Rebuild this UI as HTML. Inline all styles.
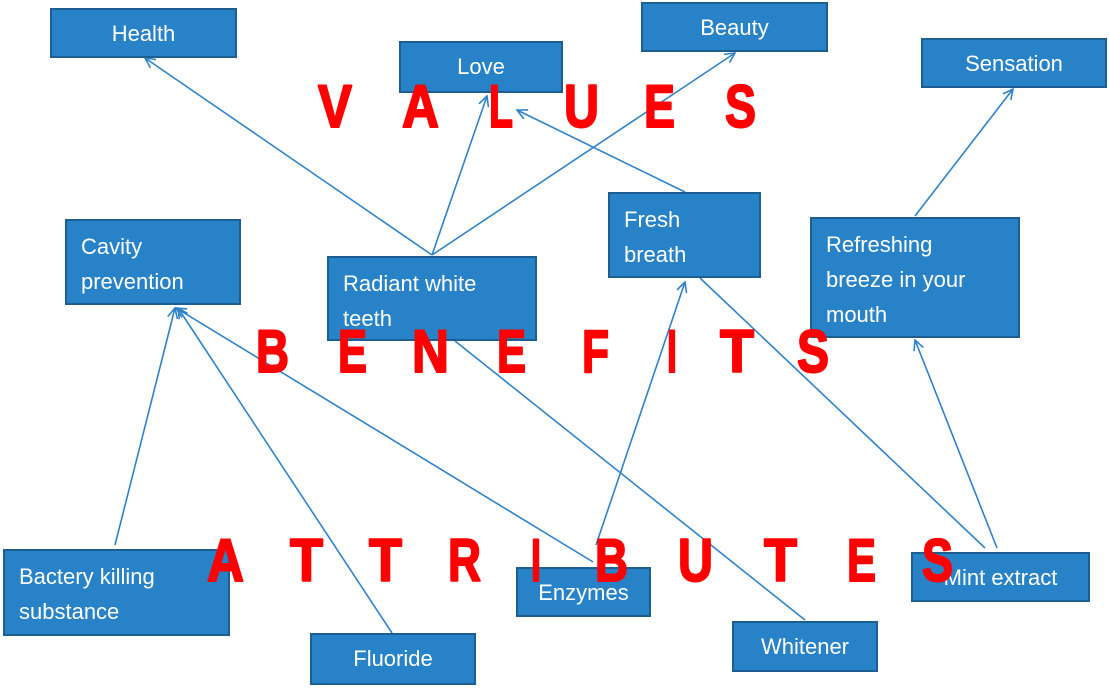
<!DOCTYPE html>
<html><head><meta charset="utf-8"><style>
body{margin:0;width:1109px;height:695px;background:#fff;position:relative;overflow:hidden;font-family:"Liberation Sans",sans-serif}
.b{position:absolute;background:#2882c8;border:2px solid #1d5e91;box-sizing:border-box;color:#fff;font-size:22px;line-height:35px}
.c{text-align:center;line-height:48px}
.l{padding:8px 0 0 14px}
svg{position:absolute;left:0;top:0}
</style></head><body>
<svg width="1109" height="695">
<defs><marker id="a" markerWidth="12" markerHeight="12" refX="11" refY="6" orient="auto" markerUnits="userSpaceOnUse"><path d="M1,1 L11,6 L1,11" fill="none" stroke="#2f82c9" stroke-width="1.6"/></marker></defs>
<g stroke="#2f82c9" stroke-width="1.6" fill="none" marker-end="url(#a)">
<line x1="432" y1="255" x2="145" y2="58"/>
<line x1="432" y1="255" x2="487" y2="96"/>
<line x1="432" y1="255" x2="735" y2="53"/>
<line x1="685" y1="192" x2="517" y2="110"/>
<line x1="915" y1="216" x2="1013" y2="89"/>
<line x1="115" y1="545" x2="175" y2="308"/>
<line x1="392" y1="633" x2="178" y2="308"/>
<line x1="593" y1="562" x2="176" y2="308"/>
<line x1="596" y1="545" x2="685" y2="282"/>
<line x1="997" y1="548" x2="915" y2="340"/>
</g>
<g stroke="#2f82c9" stroke-width="1.6">
<line x1="805" y1="620" x2="455" y2="341"/>
<line x1="985" y1="548" x2="700" y2="278"/>
</g>
</svg>
<div class="b c" style="left:50px;top:8px;width:187px;height:50px">Health</div>
<div class="b c" style="left:399px;top:41px;width:164px;height:52px">Love</div>
<div class="b c" style="left:641px;top:2px;width:187px;height:50px">Beauty</div>
<div class="b c" style="left:921px;top:38px;width:186px;height:50px">Sensation</div>
<div class="b l" style="left:65px;top:219px;width:176px;height:86px">Cavity<br>prevention</div>
<div class="b l" style="left:327px;top:256px;width:210px;height:85px">Radiant white<br>teeth</div>
<div class="b l" style="left:608px;top:192px;width:153px;height:86px">Fresh<br>breath</div>
<div class="b l" style="left:810px;top:217px;width:210px;height:121px">Refreshing<br>breeze in your<br>mouth</div>
<div class="b l" style="left:3px;top:549px;width:227px;height:87px">Bactery killing<br>substance</div>
<div class="b c" style="left:516px;top:567px;width:135px;height:50px">Enzymes</div>
<div class="b c" style="left:310px;top:633px;width:166px;height:52px">Fluoride</div>
<div class="b c" style="left:732px;top:621px;width:146px;height:51px">Whitener</div>
<div class="b c" style="left:911px;top:552px;width:179px;height:50px">Mint extract</div>
<svg width="1109" height="695">
<g fill="#ff0000" stroke="#ff0000" stroke-width="2" stroke-linejoin="round" font-family="Liberation Sans, sans-serif" font-weight="bold" font-size="60">
<text x="318" y="127" textLength="34" lengthAdjust="spacingAndGlyphs">V</text><text x="402" y="127" textLength="37" lengthAdjust="spacingAndGlyphs">A</text><text x="489" y="127" textLength="24" lengthAdjust="spacingAndGlyphs">L</text><text x="564" y="127" textLength="35" lengthAdjust="spacingAndGlyphs">U</text><text x="644" y="127" textLength="31" lengthAdjust="spacingAndGlyphs">E</text><text x="725" y="127" textLength="31" lengthAdjust="spacingAndGlyphs">S</text>
<text x="256" y="372" textLength="33" lengthAdjust="spacingAndGlyphs">B</text><text x="338" y="372" textLength="29" lengthAdjust="spacingAndGlyphs">E</text><text x="412" y="372" textLength="37" lengthAdjust="spacingAndGlyphs">N</text><text x="497" y="372" textLength="29" lengthAdjust="spacingAndGlyphs">E</text><text x="582" y="372" textLength="27" lengthAdjust="spacingAndGlyphs">F</text><text x="667" y="372" textLength="10" lengthAdjust="spacingAndGlyphs">I</text><text x="720" y="372" textLength="34" lengthAdjust="spacingAndGlyphs">T</text><text x="797" y="372" textLength="32" lengthAdjust="spacingAndGlyphs">S</text>
<text x="207" y="581" textLength="37" lengthAdjust="spacingAndGlyphs">A</text><text x="290" y="581" textLength="33" lengthAdjust="spacingAndGlyphs">T</text><text x="369" y="581" textLength="33" lengthAdjust="spacingAndGlyphs">T</text><text x="448" y="581" textLength="33" lengthAdjust="spacingAndGlyphs">R</text><text x="531" y="581" textLength="10" lengthAdjust="spacingAndGlyphs">I</text><text x="595" y="581" textLength="33" lengthAdjust="spacingAndGlyphs">B</text><text x="678" y="581" textLength="35" lengthAdjust="spacingAndGlyphs">U</text><text x="764" y="581" textLength="33" lengthAdjust="spacingAndGlyphs">T</text><text x="847" y="581" textLength="29" lengthAdjust="spacingAndGlyphs">E</text><text x="922" y="581" textLength="31" lengthAdjust="spacingAndGlyphs">S</text>
</g></svg>
</body></html>
